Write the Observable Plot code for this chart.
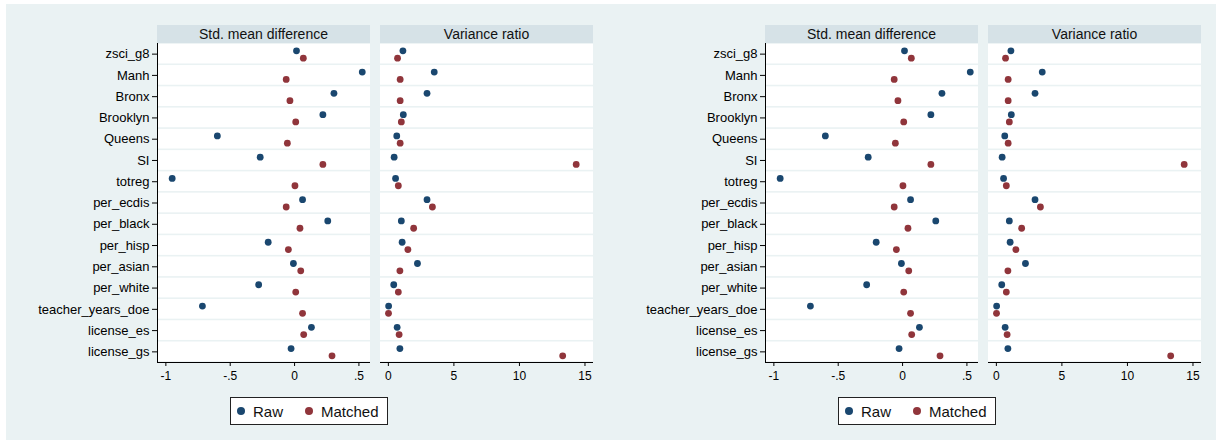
<!DOCTYPE html>
<html><head><meta charset="utf-8">
<script src="https://cdn.jsdelivr.net/npm/d3@7"></script>
<script src="https://cdn.jsdelivr.net/npm/@observablehq/plot@0.6"></script>
<style>
html,body{margin:0;padding:0;background:#fff;}
body{width:1216px;height:440px;position:relative;overflow:hidden;font-family:"Liberation Sans",Arial,sans-serif;}
#bg{position:absolute;left:6px;top:4px;width:1210px;height:436px;background:#eaf2f3;}
.abs{position:absolute;}
.strip{position:absolute;background:#d6e2e7;font-size:14px;color:#111;text-align:center;line-height:18px;height:18px;white-space:nowrap;}
.legend{position:absolute;background:#fff;border:1px solid #222;box-sizing:border-box;display:flex;align-items:center;font-size:15px;color:#111;}
.legend svg{display:block;}
svg g[aria-label="y-axis tick label"]{font-size:13px;}
</style></head><body><div id="bg"></div>
<script>
// ---- data ----
const variables = ["zsci_g8","Manh","Bronx","Brooklyn","Queens","SI","totreg","per_ecdis","per_black","per_hisp","per_asian","per_white","teacher_years_doe","license_es","license_gs"];
const smdRaw     = [0.015, 0.526, 0.306, 0.220, -0.600, -0.267, -0.951, 0.062, 0.258, -0.205, -0.009, -0.279, -0.716, 0.131, -0.027];
const smdMatched = [0.068, -0.065, -0.036, 0.009, -0.056, 0.220, 0.003, -0.065, 0.042, -0.048, 0.048, 0.009, 0.062, 0.071, 0.291];
const vrRaw      = [1.11, 3.50, 2.95, 1.14, 0.64, 0.44, 0.55, 2.95, 0.99, 1.05, 2.22, 0.41, 0.02, 0.67, 0.88];
const vrMatched  = [0.70, 0.90, 0.90, 0.99, 0.90, 14.33, 0.76, 3.36, 1.93, 1.49, 0.88, 0.76, 0.01, 0.82, 13.30];
const seriesNames  = ["Raw", "Matched"];
const seriesColors = ["#1a476f", "#90353b"];
const facetTitles  = ["Std. mean difference", "Variance ratio"];
const smdTicks = [-1, -0.5, 0, 0.5];
const smdTickLabels = ["-1", "-.5", "0", ".5"];
const vrTicks = [0, 5, 10, 15];
const vrTickLabels = ["0", "5", "10", "15"];

const n = variables.length;
const font = '"Liberation Sans", Arial, sans-serif';

function rowsFor(raw, matched) {
  const out = [];
  variables.forEach((v, i) => {
    out.push({variable: v, index: i, series: seriesNames[0], value: raw[i]});
    out.push({variable: v, index: i, series: seriesNames[1], value: matched[i]});
  });
  return out;
}

function facet({domain, ticks, tickLabels, raw, matched, showY, width, marginLeft}) {
  const rows = rowsFor(raw, matched);
  const marks = [
    Plot.rect(variables, {
      x1: domain[0], x2: domain[1],
      y1: (d, i) => i - 0.5, y2: (d, i) => i + 0.5,
      fill: "white", insetTop: 0.8, insetBottom: 0.8
    }),
    Plot.ruleY([n - 0.5], {stroke: "#000", strokeWidth: 1}),
    Plot.dot(rows.filter(d => d.series === seriesNames[0]), {x: "value", y: "index", fill: "series", r: 3.4, dy: -3.3}),
    Plot.dot(rows.filter(d => d.series === seriesNames[1]), {x: "value", y: "index", fill: "series", r: 3.4, dy: 4})
  ];
  if (showY) marks.push(Plot.ruleX([domain[0]], {stroke: "#000", strokeWidth: 1}));
  return Plot.plot({
    width, height: 349,
    marginTop: 0, marginBottom: 30, marginLeft, marginRight: 0,
    x: {domain, ticks, tickFormat: d => tickLabels[ticks.indexOf(d)], tickSize: 4, tickPadding: 5, label: null},
    y: {domain: [n - 0.5, -0.5], ticks: d3.range(n), tickFormat: i => variables[i], tickSize: 5, tickPadding: 3, label: null, axis: showY ? "left" : null},
    color: {domain: seriesNames, range: seriesColors},
    style: {background: "transparent", fontFamily: font, fontSize: "12px", color: "#000", overflow: "visible"},
    marks
  });
}

function place(el, left, top) {
  el.classList.add("abs");
  el.style.left = left + "px";
  el.style.top = top + "px";
  document.body.appendChild(el);
}

function strip(text, left, width) {
  const d = document.createElement("div");
  d.className = "strip";
  d.style.left = left + "px";
  d.style.top = "25px";
  d.style.width = width + "px";
  d.textContent = text;
  document.body.appendChild(d);
}

function legend(left) {
  const box = document.createElement("div");
  box.className = "legend";
  box.style.left = left + "px";
  box.style.top = "397px";
  box.style.width = "158px";
  box.style.height = "28px";
  box.style.paddingLeft = "6px";
  seriesNames.forEach((name, i) => {
    const svg = d3.create("svg").attr("width", 8).attr("height", 8);
    svg.append("circle").attr("cx", 4).attr("cy", 4).attr("r", 4).attr("fill", seriesColors[i]);
    const s = svg.node();
    s.style.marginRight = "8px";
    if (i > 0) s.style.marginLeft = "22px";
    box.appendChild(s);
    const t = document.createElement("span");
    t.textContent = name;
    box.appendChild(t);
  });
  document.body.appendChild(box);
}

[0, 608].forEach(px0 => {
  const a = facet({domain: [-1.065, 0.59], ticks: smdTicks, tickLabels: smdTickLabels, raw: smdRaw, matched: smdMatched, showY: true, width: 370, marginLeft: 157});
  place(a, px0, 43);
  const b = facet({domain: [-0.6, 15.65], ticks: vrTicks, tickLabels: vrTickLabels, raw: vrRaw, matched: vrMatched, showY: false, width: 213, marginLeft: 0});
  place(b, px0 + 380, 43);
  strip(facetTitles[0], px0 + 157, 213);
  strip(facetTitles[1], px0 + 380, 213);
  legend(px0 + 230);
});
</script></body></html>
